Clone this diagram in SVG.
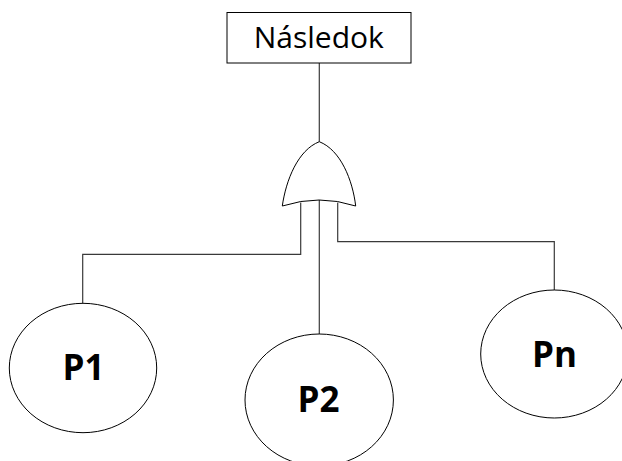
<svg xmlns="http://www.w3.org/2000/svg" width="622" height="461" viewBox="0 0 622 461">
<style>
.shape{fill:#ffffff;stroke:#000000;stroke-width:1}
.conn{fill:none;stroke:#3a3a3a;stroke-width:1.2}
.lbl{font-family:"Open Sans","Noto Sans","DejaVu Sans",sans-serif;fill:#000000;text-anchor:middle}
.big{font-weight:bold;font-size:35px}
</style>
<rect width="622" height="461" fill="#ffffff"/>
<g id="connectors">
<path class="conn" d="M319.3 63 V141.7"/>
<path class="conn" d="M300.7 202.5 V254.3 H82.7 V303.3"/>
<path class="conn" d="M319.3 200 V334"/>
<path class="conn" d="M337.7 202.5 V241.7 H554.3 V290"/>
</g>
<g id="nasledok">
<rect class="shape" x="227" y="12.5" width="184" height="50.5"/>
<text class="lbl" x="318.8" y="47.5" font-size="30">Následok</text>
</g>
<g id="or-gate">
<path class="shape" d="M282.3 206 C286 180 298 150 319.3 141.7 C340.6 150 352.6 180 355.7 206 Q319.3 194 282.3 206 Z"/>
</g>
<g id="p1">
<ellipse class="shape" cx="83" cy="368" rx="73.7" ry="64.7"/>
<text class="lbl big" x="83.5" y="380">P1</text>
</g>
<g id="p2">
<ellipse class="shape" cx="319.2" cy="400" rx="74.2" ry="66"/>
<text class="lbl big" x="318.5" y="411.7">P2</text>
</g>
<g id="pn">
<ellipse class="shape" cx="554.3" cy="354" rx="73.6" ry="64"/>
<text class="lbl big" x="554.5" y="367.3">Pn</text>
</g>
</svg>
